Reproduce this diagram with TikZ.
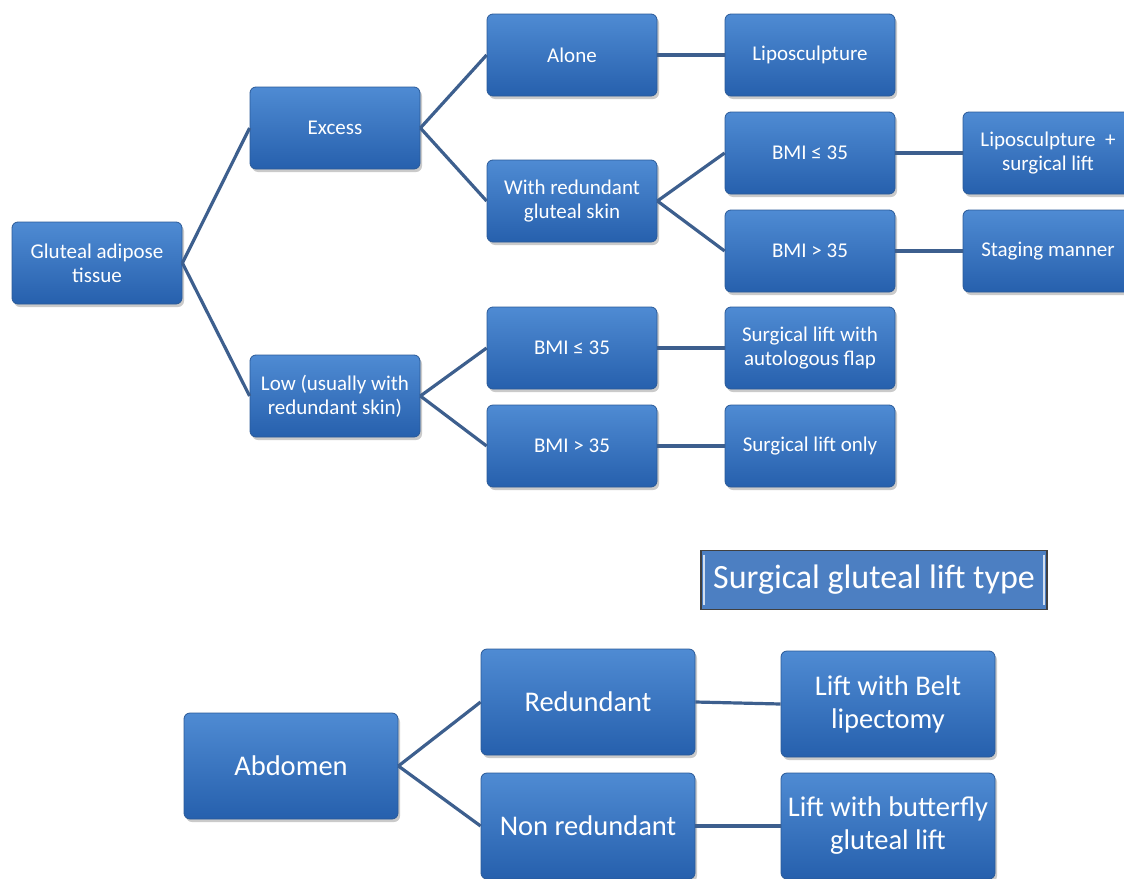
\documentclass[tikz,border=0pt]{standalone}
\usepackage{fontspec}
\setmainfont{Carlito}
\usetikzlibrary{shadows}
\definecolor{boxtop}{HTML}{4F8BD3}
\definecolor{boxbot}{HTML}{2660AD}
\definecolor{boxedge}{HTML}{2A5A98}
\definecolor{linecol}{HTML}{3D5F8E}
\definecolor{titlefill}{HTML}{4C7FC2}
\tikzset{
  box/.style={rectangle, rounded corners=6pt, draw=boxedge, line width=0.8pt,
    top color=boxtop, bottom color=boxbot, text=white, align=center, inner sep=0pt,
    drop shadow={shadow xshift=2pt, shadow yshift=-3pt, opacity=0.35, fill=black!60}},
  smallbox/.style={box, minimum width=170pt, minimum height=82pt, font=\fontsize{21}{24}\selectfont},
  bigbox/.style={box, minimum width=214pt, minimum height=106pt, font=\fontsize{28.5}{33}\selectfont},
  link/.style={draw=linecol, line width=3.2pt},
  titlebox/.style={rectangle, draw=black!75, line width=1.6pt, fill=titlefill, text=white,
    minimum width=346pt, minimum height=59pt, inner sep=0pt, font=\fontsize{34}{38}\selectfont},
  bevel/.style={draw=white!75!titlefill, line width=2pt}
}
\begin{document}
\begin{tikzpicture}[x=1pt,y=-1pt]
\useasboundingbox (0,0) rectangle (1124,878);
\clip (0,0) rectangle (1124,878);
% top tree
\node[smallbox] (g) at (97,263) {Gluteal adipose\\tissue};
\node[smallbox] (ex) at (335,128) {Excess};
\node[smallbox] (lo) at (335,396) {Low (usually with\\redundant skin)};
\node[smallbox] (al) at (572,55) {Alone};
\node[smallbox] (lp) at (810,55) {Liposculpture};
\node[smallbox] (wr) at (572,201) {With redundant\\gluteal skin};
\node[smallbox] (b1) at (810,153) {BMI ≤ 35};
\node[smallbox] (b2) at (810,251) {BMI > 35};
\node[smallbox] (ls) at (1048,153) {Liposculpture \ +\\surgical lift};
\node[smallbox] (sm) at (1048,251) {Staging manner};
\node[smallbox] (b3) at (572,348) {BMI ≤ 35};
\node[smallbox] (b4) at (572,446) {BMI > 35};
\node[smallbox] (sa) at (810,348) {Surgical lift with\\autologous flap};
\node[smallbox] (so) at (810,446) {Surgical lift only};
\draw[link] (g.east) -- (ex.west);
\draw[link] (g.east) -- (lo.west);
\draw[link] (ex.east) -- (al.west);
\draw[link] (ex.east) -- (wr.west);
\draw[link] (al.east) -- (lp.west);
\draw[link] (wr.east) -- (b1.west);
\draw[link] (wr.east) -- (b2.west);
\draw[link] (b1.east) -- (ls.west);
\draw[link] (b2.east) -- (sm.west);
\draw[link] (lo.east) -- (b3.west);
\draw[link] (lo.east) -- (b4.west);
\draw[link] (b3.east) -- (sa.west);
\draw[link] (b4.east) -- (so.west);
% title
\node[titlebox] (tt) at (874,580) {Surgical gluteal lift type};
\draw[bevel] ([xshift=4pt,yshift=-5pt]tt.north west) -- ([xshift=4pt,yshift=5pt]tt.south west);
\draw[bevel] ([xshift=-4pt,yshift=-5pt]tt.north east) -- ([xshift=-4pt,yshift=5pt]tt.south east);
% bottom tree
\node[bigbox] (ab) at (291,766) {Abdomen};
\node[bigbox] (re) at (588,702) {Redundant};
\node[bigbox] (nr) at (588,826) {Non redundant};
\node[bigbox] (lb) at (888,704) {Lift with Belt\\lipectomy};
\node[bigbox] (lf) at (888,826) {Lift with butterfly\\gluteal lift};
\draw[link] (ab.east) -- (re.west);
\draw[link] (ab.east) -- (nr.west);
\draw[link] (re.east) -- (lb.west);
\draw[link] (nr.east) -- (lf.west);
\end{tikzpicture}
\end{document}
